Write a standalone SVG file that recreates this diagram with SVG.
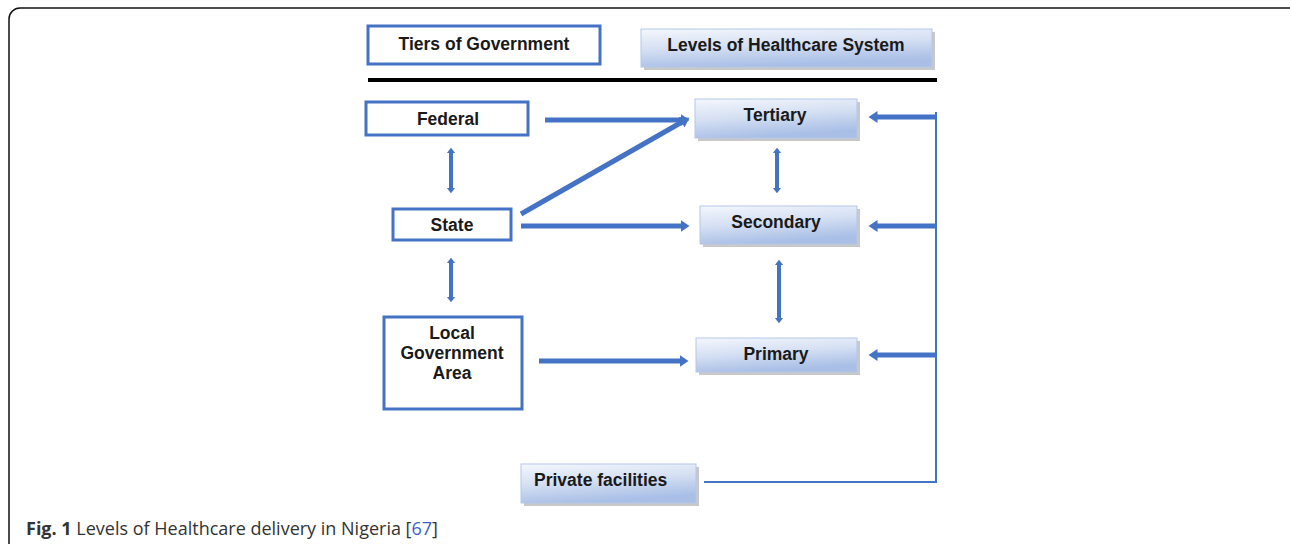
<svg xmlns="http://www.w3.org/2000/svg" width="1290" height="544" viewBox="0 0 1290 544">
<defs>
<linearGradient id="hg" x1="0" y1="0" x2="0.3" y2="1">
<stop offset="0" stop-color="#f4f7fd"/>
<stop offset="0.5" stop-color="#d5e0f3"/>
<stop offset="1" stop-color="#a9bfe6"/>
</linearGradient>
<marker id="ah" markerWidth="4" markerHeight="4" refX="0.1" refY="2" orient="auto" markerUnits="strokeWidth">
<path d="M0,0.8 L1.8,2 L0,3.2 Z" fill="#4472C4"/>
</marker>
<marker id="dh" markerWidth="3" markerHeight="3" refX="0.1" refY="1.5" orient="auto-start-reverse" markerUnits="strokeWidth">
<path d="M0,0.4 L1.4,1.5 L0,2.6 Z" fill="#4472C4"/>
</marker>
</defs>
<style>
.tb{fill:#fff;stroke:#4472C4;stroke-width:3}
.hb{fill:url(#hg);stroke:#b4c7e7;stroke-width:1}
.sh{fill:#9a9a9a;opacity:0.55}
.t{font-family:"Liberation Sans",Arial,sans-serif;font-weight:bold;font-size:17.5px;fill:#1a1a1a;text-anchor:middle}
.a{stroke:#4472C4;stroke-width:5;fill:none}
.d{stroke:#4472C4;stroke-width:4;fill:none}
.l{stroke:#4472C4;stroke-width:2;fill:none}
</style>
<rect x="9" y="8" width="1300" height="560" rx="11" fill="none" stroke="#111" stroke-width="1.5"/>
<g id="tiers-header"><rect class="tb" x="368" y="26" width="232" height="38"/><text class="t" x="484" y="50">Tiers of Government</text></g>
<g id="levels-header"><rect class="sh" x="644" y="32" width="291" height="38"/><rect class="hb" x="641" y="29" width="291" height="38"/><text class="t" x="786" y="51">Levels of Healthcare System</text></g>
<rect id="divider" x="368" y="78" width="569" height="4" fill="#000"/>
<g id="federal"><rect class="tb" x="366" y="102" width="162" height="33"/><text class="t" x="448" y="125">Federal</text></g>
<g id="state"><rect class="tb" x="393" y="209" width="118" height="31"/><text class="t" x="452" y="231">State</text></g>
<g id="lga"><rect class="tb" x="384" y="317" width="138" height="92"/><text class="t" x="452" y="339">Local</text><text class="t" x="452" y="359">Government</text><text class="t" x="452" y="379">Area</text></g>
<g id="tertiary"><rect class="sh" x="698" y="102" width="162" height="39"/><rect class="hb" x="695" y="99" width="162" height="39"/><text class="t" x="775" y="121">Tertiary</text></g>
<g id="secondary"><rect class="sh" x="703" y="209" width="157" height="38"/><rect class="hb" x="700" y="206" width="157" height="38"/><text class="t" x="776" y="228">Secondary</text></g>
<g id="primary"><rect class="sh" x="699" y="341" width="161" height="34"/><rect class="hb" x="696" y="338" width="161" height="34"/><text class="t" x="776" y="360">Primary</text></g>
<g id="private"><rect class="sh" x="524" y="467" width="175" height="39"/><rect class="hb" x="521" y="464" width="175" height="39"/><text class="t" x="534" y="486" style="text-anchor:start">Private facilities</text></g>
<g id="connectors">
<line class="a" x1="545" y1="120" x2="681" y2="120" marker-end="url(#ah)"/>
<line class="a" x1="521" y1="214" x2="682" y2="122" marker-end="url(#ah)"/>
<line class="a" x1="521" y1="226" x2="681" y2="226" marker-end="url(#ah)"/>
<line class="a" x1="539" y1="361" x2="680" y2="361" marker-end="url(#ah)"/>
<line class="d" x1="451" y1="153" x2="451" y2="188" marker-start="url(#dh)" marker-end="url(#dh)"/>
<line class="d" x1="451" y1="263" x2="451" y2="297" marker-start="url(#dh)" marker-end="url(#dh)"/>
<line class="d" x1="777" y1="153" x2="777" y2="188" marker-start="url(#dh)" marker-end="url(#dh)"/>
<line class="d" x1="779" y1="265" x2="779" y2="318" marker-start="url(#dh)" marker-end="url(#dh)"/>
<line class="l" x1="936" y1="112" x2="936" y2="482"/>
<line class="l" x1="704" y1="482" x2="937" y2="482"/>
<line class="a" x1="936" y1="117" x2="877" y2="117" marker-end="url(#ah)"/>
<line class="a" x1="936" y1="226" x2="877" y2="226" marker-end="url(#ah)"/>
<line class="a" x1="936" y1="355" x2="877" y2="355" marker-end="url(#ah)"/>
</g>
<text id="caption" x="26" y="535" style="font-family:'Open Sans','Noto Sans',sans-serif;font-size:18px;fill:#333"><tspan font-weight="bold">Fig. 1</tspan> Levels of Healthcare delivery in Nigeria [<tspan fill="#3b5fc9">67</tspan>]</text>
</svg>
